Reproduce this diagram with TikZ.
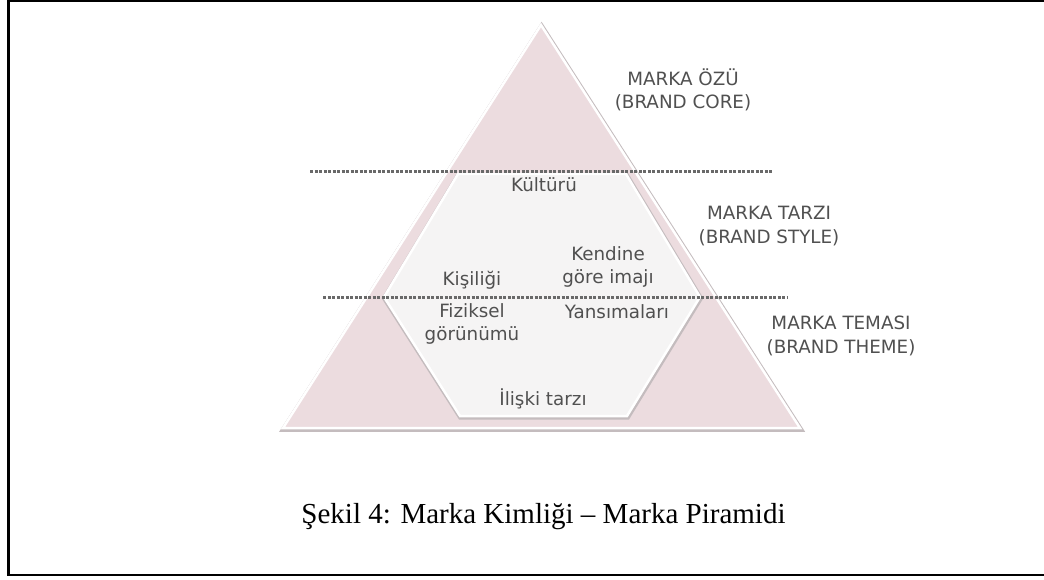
\documentclass[tikz,border=0pt]{standalone}
\usepackage{fontspec}
\setmainfont{Liberation Serif}
\newfontfamily\labelfont{DejaVu Sans}

\definecolor{pinkfill}{RGB}{236,220,223}
\definecolor{hexfill}{RGB}{245,244,244}
\definecolor{edgeshade}{RGB}{196,188,190}
\definecolor{labelgrey}{RGB}{80,80,80}
\definecolor{dotgrey}{RGB}{105,105,105}

\begin{document}
\begin{tikzpicture}[x=1pt,y=-1pt,
  lbl/.style={font=\labelfont\fontsize{18.3}{23.5}\selectfont,
    text=labelgrey, align=center, inner sep=0pt},
  layerline/.style={draw=dotgrey, line width=3pt,
    dash pattern=on 3pt off 1.5pt},
  shade edge/.style={draw=edgeshade, line width=5pt, line join=miter},
  white edge/.style={draw=white, line width=2.5pt, line join=miter},
  frameline/.style={draw=black, line width=2.4pt}]

\useasboundingbox (0,0) rectangle (1044,580);

% page frame (open on the right)
\draw[frameline] (1044,1.3) -- (8.3,1.3) -- (8.3,575.2) -- (1044,575.2);

% pyramid
\coordinate (apex) at (541,25);
\coordinate (bl) at (283,428);
\coordinate (br) at (800,428);
\draw[shade edge] ([shift={(0.6,1.4)}]apex) -- ([shift={(0.6,1.4)}]br)
  -- ([shift={(0.6,1.4)}]bl) -- cycle;
\fill[pinkfill] (apex) -- (br) -- (bl) -- cycle;
\draw[white edge] (apex) -- (br) -- (bl) -- cycle;

% identity hexagon
\coordinate (h1) at (458,174);
\coordinate (h2) at (626,174);
\coordinate (h3) at (700,297);
\coordinate (h4) at (627,416);
\coordinate (h5) at (460,416);
\coordinate (h6) at (384,297);
\draw[shade edge] ([shift={(0.5,1.2)}]h1) -- ([shift={(0.5,1.2)}]h2)
  -- ([shift={(0.5,1.2)}]h3) -- ([shift={(0.5,1.2)}]h4)
  -- ([shift={(0.5,1.2)}]h5) -- ([shift={(0.5,1.2)}]h6) -- cycle;
\fill[hexfill] (h1) -- (h2) -- (h3) -- (h4) -- (h5) -- (h6) -- cycle;
\draw[white edge] (h1) -- (h2) -- (h3) -- (h4) -- (h5) -- (h6) -- cycle;

% level separators
\coordinate (s1a) at (310,172);
\coordinate (s1b) at (773,172);
\coordinate (s2a) at (323,297);
\coordinate (s2b) at (787,297);
\draw[layerline] (s1a) -- (s1b);
\draw[layerline] (s2a) -- (s2b);

% level names
\node[lbl] (core)  at (683,90)  {MARKA ÖZÜ\\(BRAND CORE)};
\node[lbl] (style) at (769,226) {MARKA TARZI\\(BRAND STYLE)};
\node[lbl] (theme) at (841,336) {MARKA TEMASI\\(BRAND THEME)};

% facets of the identity
\node[lbl] (kultur)  at (544,185) {Kültürü};
\node[lbl] (imaj)    at (608,267) {Kendine\\göre imajı};
\node[lbl] (kisilik) at (472,280) {Kişiliği};
\node[lbl] (fizik)   at (472,324) {Fiziksel\\görünümü};
\node[lbl] (yansima) at (617,312) {Yansımaları};
\node[lbl] (iliski)  at (543,399) {İlişki tarzı};

% caption
\node[font=\fontsize{29}{32}\selectfont, inner sep=0pt] (caption)
  at (543.5,517) {Şekil 4: Marka Kimliği – Marka Piramidi};
\end{tikzpicture}
\end{document}
